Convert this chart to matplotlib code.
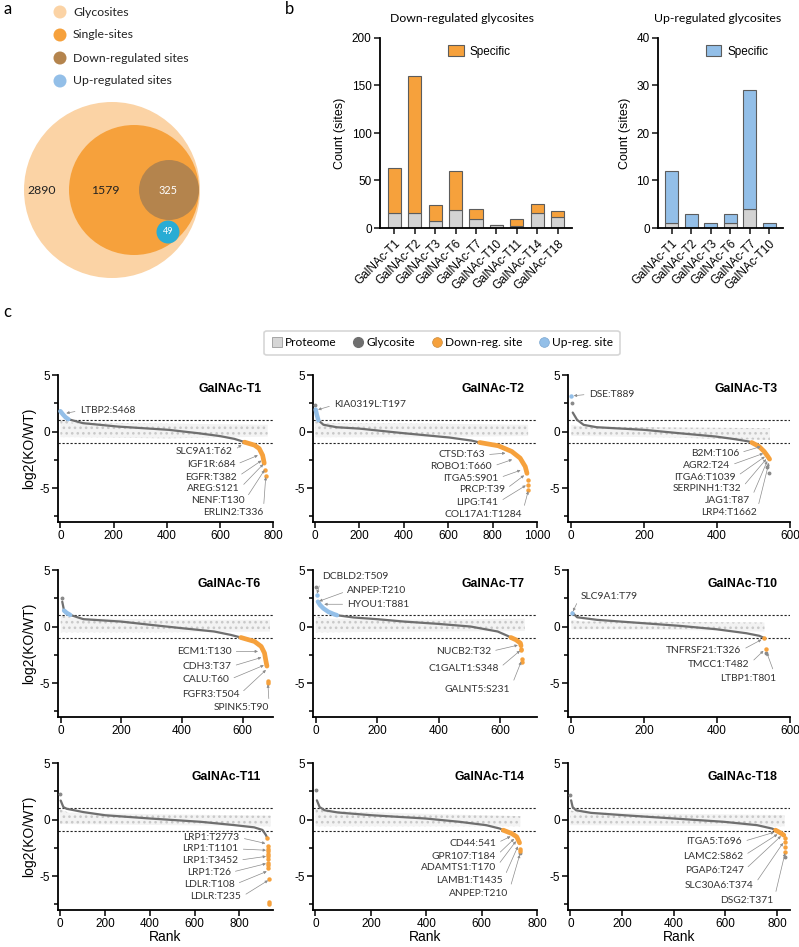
import numpy as np
import matplotlib
matplotlib.use("Agg")
import matplotlib.pyplot as plt
from matplotlib.patches import Circle, Patch
from matplotlib.lines import Line2D
from matplotlib.ticker import MultipleLocator

plt.rcParams['font.family'] = ['Liberation Sans', 'DejaVu Sans']
plt.rcParams['axes.unicode_minus'] = False
plt.rcParams['hatch.linewidth'] = 1.1
SOFT = ['Lato', 'DejaVu Sans']   # Myriad-like text

# ---- a: nested Venn
venn_labels = ['Glycosites', 'Single-sites', 'Down-regulated sites', 'Up-regulated sites']
venn_counts = [2890, 1579, 325, 49]

# ---- b: regulated glycosites per isoform (total, shared part in grey)
down_names = ['GalNAc-T1', 'GalNAc-T2', 'GalNAc-T3', 'GalNAc-T6', 'GalNAc-T7',
              'GalNAc-T10', 'GalNAc-T11', 'GalNAc-T14', 'GalNAc-T18']
down_total = [63, 160, 24, 60, 20, 3, 9, 25, 18]
down_shared = [16, 16, 7, 19, 10, 3, 2, 16, 12]
up_names = ['GalNAc-T1', 'GalNAc-T2', 'GalNAc-T3', 'GalNAc-T6', 'GalNAc-T7', 'GalNAc-T10']
up_total = [12, 3, 1, 3, 29, 1]
up_shared = [1, 0, 0, 1, 4, 0]

# ---- c: ranked log2(KO/WT) of glycosites
panels = ['GalNAc-T1', 'GalNAc-T2', 'GalNAc-T3', 'GalNAc-T6', 'GalNAc-T7',
          'GalNAc-T10', 'GalNAc-T11', 'GalNAc-T14', 'GalNAc-T18']

glyco_x = {
    'GalNAc-T1': [30, 85, 216, 408, 519, 600, 655, 686, 693],
    'GalNAc-T2': [15, 38, 98, 200, 401, 606, 705, 742],
    'GalNAc-T3': [4, 16, 34, 70, 200, 297, 396, 450, 487, 495],
    'GalNAc-T6': [5, 11, 31, 75, 199, 296, 401, 506, 561, 594],
    'GalNAc-T7': [69, 123, 200, 287, 396, 504, 592, 624, 635],
    'GalNAc-T10': [3, 16, 71, 200, 298, 398, 480, 516, 530],
    'GalNAc-T11': [3, 15, 30, 104, 201, 403, 627, 776, 866, 903, 918, 925],
    'GalNAc-T14': [5, 15, 33, 82, 203, 398, 520, 617, 666, 678],
    'GalNAc-T18': [3, 9, 22, 80, 208, 401, 594, 723, 781, 794],
}
glyco_y = {
    'GalNAc-T1': [1.09, 0.74, 0.44, 0.15, -0.15, -0.4, -0.65, -0.88, -0.94],
    'GalNAc-T2': [1.0, 0.6, 0.38, 0.26, -0.15, -0.53, -0.8, -0.97],
    'GalNAc-T3': [1.68, 1.03, 0.59, 0.38, 0.15, -0.15, -0.44, -0.68, -0.88, -0.97],
    'GalNAc-T6': [2.2, 1.41, 1.03, 0.65, 0.44, 0.15, -0.15, -0.44, -0.74, -0.97],
    'GalNAc-T7': [1.0, 0.8, 0.65, 0.44, 0.24, 0.0, -0.44, -0.82, -0.97],
    'GalNAc-T10': [1.24, 0.82, 0.59, 0.29, 0.06, -0.24, -0.59, -0.82, -1.03],
    'GalNAc-T11': [1.68, 1.1, 0.95, 0.66, 0.38, 0.09, -0.2, -0.49, -0.69, -0.92, -1.36, -1.65],
    'GalNAc-T14': [1.7, 1.1, 0.82, 0.62, 0.38, 0.09, -0.2, -0.5, -0.8, -0.94],
    'GalNAc-T18': [1.7, 1.1, 0.82, 0.59, 0.38, 0.09, -0.2, -0.5, -0.8, -0.94],
}
down_x = {
    'GalNAc-T1': [693, 730, 748, 761, 767],
    'GalNAc-T2': [742, 826, 886, 924, 947, 955],
    'GalNAc-T3': [495, 515, 529, 538, 544],
    'GalNAc-T6': [594, 639, 661, 672, 677, 680],
    'GalNAc-T7': [635, 652, 666, 668],
    'GalNAc-T10': [],
    'GalNAc-T11': [],
    'GalNAc-T14': [678, 709, 727, 737],
    'GalNAc-T18': [794, 813, 826],
}
down_y = {
    'GalNAc-T1': [-0.94, -1.2, -1.5, -2.1, -2.8],
    'GalNAc-T2': [-0.97, -1.26, -1.76, -2.35, -3.1, -3.7],
    'GalNAc-T3': [-0.97, -1.32, -1.76, -2.15, -2.44],
    'GalNAc-T6': [-0.97, -1.32, -1.76, -2.35, -3.1, -3.5],
    'GalNAc-T7': [-0.97, -1.18, -1.47, -1.7],
    'GalNAc-T10': [],
    'GalNAc-T11': [],
    'GalNAc-T14': [-0.94, -1.24, -1.53, -2.06],
    'GalNAc-T18': [-0.94, -1.18, -1.38],
}
down_dot_x = {
    'GalNAc-T1': [771, 772],
    'GalNAc-T2': [958, 958, 960],
    'GalNAc-T3': [],
    'GalNAc-T6': [683, 684],
    'GalNAc-T7': [668, 668, 670, 670],
    'GalNAc-T10': [530, 535],
    'GalNAc-T11': [925, 926, 926, 926, 927, 927, 927, 928, 928, 928, 930, 933, 934],
    'GalNAc-T14': [739, 739],
    'GalNAc-T18': [830, 831, 832, 832],
}
down_dot_y = {
    'GalNAc-T1': [-3.4, -3.9],
    'GalNAc-T2': [-4.3, -4.7, -5.15],
    'GalNAc-T3': [],
    'GalNAc-T6': [-4.85, -5.0],
    'GalNAc-T7': [-1.95, -2.1, -2.9, -3.15],
    'GalNAc-T10': [-1.05, -1.97],
    'GalNAc-T11': [-1.65, -2.37, -2.6, -2.8, -3.05, -3.24, -3.5, -3.8, -4.05, -4.25, -5.26, -7.28, -7.43],
    'GalNAc-T14': [-2.6, -2.76],
    'GalNAc-T18': [-1.6, -1.97, -2.41, -2.85],
}
up_x = {
    'GalNAc-T1': [0, 10, 20, 30],
    'GalNAc-T2': [3, 8, 15],
    'GalNAc-T3': [],
    'GalNAc-T6': [11, 20, 31],
    'GalNAc-T7': [7, 14, 25, 41, 58, 69],
    'GalNAc-T10': [],
    'GalNAc-T11': [],
    'GalNAc-T14': [],
    'GalNAc-T18': [],
}
up_y = {
    'GalNAc-T1': [1.8, 1.5, 1.25, 1.09],
    'GalNAc-T2': [1.95, 1.5, 1.0],
    'GalNAc-T3': [],
    'GalNAc-T6': [1.41, 1.2, 1.03],
    'GalNAc-T7': [2.2, 1.9, 1.6, 1.3, 1.1, 1.0],
    'GalNAc-T10': [],
    'GalNAc-T11': [],
    'GalNAc-T14': [],
    'GalNAc-T18': [],
}
up_dot_x = {'GalNAc-T3': [0], 'GalNAc-T7': [3], 'GalNAc-T10': [3]}
up_dot_y = {'GalNAc-T3': [3.15], 'GalNAc-T7': [2.8], 'GalNAc-T10': [1.24]}
other_x = {'GalNAc-T2': [0], 'GalNAc-T3': [2, 538, 542], 'GalNAc-T6': [3], 'GalNAc-T7': [0],
           'GalNAc-T10': [535], 'GalNAc-T11': [0], 'GalNAc-T14': [2, 740], 'GalNAc-T18': [0, 832]}
other_y = {'GalNAc-T2': [2.35], 'GalNAc-T3': [2.5, -3.1, -3.7], 'GalNAc-T6': [2.5], 'GalNAc-T7': [3.5],
           'GalNAc-T10': [-2.3], 'GalNAc-T11': [2.25], 'GalNAc-T14': [2.6, -3.0], 'GalNAc-T18': [2.15, -3.3]}

# proteome spread (upper / lower envelope of the light grey cloud)
prot_x = {
    'GalNAc-T1': [0, 40, 400, 780], 'GalNAc-T2': [0, 40, 500, 960], 'GalNAc-T3': [0, 30, 300, 545],
    'GalNAc-T6': [0, 40, 350, 690], 'GalNAc-T7': [0, 40, 350, 680], 'GalNAc-T10': [0, 30, 300, 530],
    'GalNAc-T11': [0, 40, 500, 940], 'GalNAc-T14': [0, 40, 400, 740], 'GalNAc-T18': [0, 40, 400, 830],
}
prot_hi = {
    'GalNAc-T1': [1.1, 0.8, 0.7, 0.6], 'GalNAc-T2': [0.9, 0.75, 0.7, 0.6], 'GalNAc-T3': [0.6, 0.45, 0.35, 0.3],
    'GalNAc-T6': [1.0, 0.75, 0.6, 0.6], 'GalNAc-T7': [0.9, 0.7, 0.6, 0.7], 'GalNAc-T10': [0.6, 0.45, 0.4, 0.35],
    'GalNAc-T11': [0.9, 0.6, 0.45, 0.35], 'GalNAc-T14': [1.0, 0.75, 0.5, 0.3], 'GalNAc-T18': [0.8, 0.65, 0.5, 0.4],
}
prot_lo = {
    'GalNAc-T1': [-0.5, -0.5, -0.6, -0.45], 'GalNAc-T2': [-0.5, -0.5, -0.5, -0.4], 'GalNAc-T3': [-0.4, -0.4, -0.55, -0.75],
    'GalNAc-T6': [-0.5, -0.5, -0.5, -0.45], 'GalNAc-T7': [-0.5, -0.5, -0.45, -0.4], 'GalNAc-T10': [-0.25, -0.25, -0.3, -0.45],
    'GalNAc-T11': [-0.4, -0.4, -0.5, -0.6], 'GalNAc-T14': [-0.6, -0.6, -0.6, -0.6], 'GalNAc-T18': [-0.5, -0.5, -0.55, -0.6],
}

# called-out sites: (label, rank, log2 ratio)
callouts = {
    'GalNAc-T1': [('LTBP2:S468', 17, 1.6), ('SLC9A1:T62', 686, -1.09), ('IGF1R:684', 748, -2.06),
                  ('EGFR:T382', 761, -2.5), ('AREG:S121', 767, -2.8), ('NENF:T130', 771, -3.3),
                  ('ERLIN2:T336', 773, -3.9)],
    'GalNAc-T2': [('KIA0319L:T197', 8, 1.9), ('CTSD:T63', 864, -1.9), ('ROBO1:T660', 894, -2.44),
                  ('ITGA5:S901', 932, -3.38), ('PRCP:T39', 947, -3.8), ('LIPG:T41', 955, -4.7),
                  ('COL17A1:T1284', 962, -5.15)],
    'GalNAc-T3': [('DSE:T889', 3, 3.15), ('B2M:T106', 523, -1.3), ('AGR2:T24', 530, -1.9),
                  ('ITGA6:T1039', 534, -2.15), ('SERPINH1:T32', 537, -2.35), ('JAG1:T87', 539, -2.5),
                  ('LRP4:T1662', 543, -2.65)],
    'GalNAc-T6': [('ECM1:T130', 655, -2.2), ('CDH3:T37', 666, -2.7), ('CALU:T60', 674, -3.38),
                  ('FGFR3:T504', 680, -3.76), ('SPINK5:T90', 683, -5.0)],
    'GalNAc-T7': [('DCBLD2:T509', 3, 2.8), ('ANPEP:T210', 7, 2.2), ('HYOU1:T881', 23, 1.97),
                  ('NUCB2:T32', 662, -1.62), ('C1GALT1:S348', 668, -2.06), ('GALNT5:S231', 670, -3.0)],
    'GalNAc-T10': [('SLC9A1:T79', 3, 1.24), ('TNFRSF21:T326', 525, -1.1), ('TMCC1:T482', 530, -2.06),
                   ('LTBP1:T801', 535, -2.2)],
    'GalNAc-T11': [('LRP1:T2773', 922, -2.14), ('LRP1:T1101', 925, -2.72), ('LRP1:T3452', 925, -3.24),
                   ('LRP1:T26', 925, -3.87), ('LDLR:T108', 928, -4.54), ('LDLR:T235', 933, -5.32)],
    'GalNAc-T14': [('CD44:541', 709, -1.44), ('GPR107:T184', 721, -1.62), ('ADAMTS1:T170', 727, -1.82),
                   ('LAMB1:T1435', 733, -2.26), ('ANPEP:T210', 739, -3.0)],
    'GalNAc-T18': [('ITGA5:T696', 794, -1.09), ('LAMC2:S862', 806, -1.24), ('PGAP6:T247', 819, -1.38),
                   ('SLC30A6:T374', 826, -1.97), ('DSG2:T371', 832, -2.85)],
}
# where each label text sits (layout)
callout_pos = {
    'GalNAc-T1': [(73, 1.85), (649, -1.76), (658, -2.94), (665, -4.03), (674, -5.06), (693, -6.12), (763, -7.2)],
    'GalNAc-T2': [(86, 2.35), (765, -2.06), (798, -3.09), (826, -4.12), (856, -5.15), (826, -6.26), (932, -7.35)],
    'GalNAc-T3': [(48, 3.3), (460, -1.9), (435, -3.0), (451, -4.03), (466, -5.06), (491, -6.12), (508, -7.2)],
    'GalNAc-T6': [(563, -2.2), (563, -3.53), (556, -4.7), (589, -6.03), (688, -7.2)],
    'GalNAc-T7': [(20, 4.41), (103, 3.15), (103, 1.97), (570, -2.2), (595, -3.74), (633, -5.53)],
    'GalNAc-T10': [(25, 2.7), (466, -2.12), (489, -3.32), (562, -4.56)],
    'GalNAc-T11': [(801, -1.59), (796, -2.6), (794, -3.61), (761, -4.68), (779, -5.75), (809, -6.85)],
    'GalNAc-T14': [(652, -2.12), (652, -3.24), (652, -4.26), (676, -5.41), (697, -6.53)],
    'GalNAc-T18': [(665, -1.97), (669, -3.24), (671, -4.53), (710, -5.85), (787, -7.18)],
}
rank_max = {'GalNAc-T1': 800, 'GalNAc-T2': 1000, 'GalNAc-T3': 600, 'GalNAc-T6': 700, 'GalNAc-T7': 720,
            'GalNAc-T10': 600, 'GalNAc-T11': 950, 'GalNAc-T14': 800, 'GalNAc-T18': 850}

ORANGE = '#f6a13c'
BLUE = '#93bfe8'
GLYCO = '#6f6f6f'
PROT = '#c9c9c9'
EDGE = '#5c5c5c'

W, H = 799, 947
fig = plt.figure(figsize=(W / 100, H / 100), dpi=100)


def px_axes(x0, y0, x1, y1):
    return fig.add_axes([x0 / W, 1 - y1 / H, (x1 - x0) / W, (y1 - y0) / H])


# ---------------- a
ax = px_axes(0, 0, 260, 300)
ax.set_xlim(0, 260)
ax.set_ylim(300, 0)
ax.axis('off')
legend_cols = ['#fbd3a5', ORANGE, '#b4844d', BLUE]
venn_cols = ['#fbd3a5', ORANGE, '#b4844d', '#29acd4']
for i, lab in enumerate(venn_labels):
    ax.add_patch(Circle((60, 12 + 23 * i), 6.5, color=legend_cols[i], lw=0))
    ax.text(73, 12 + 23 * i, lab, family=SOFT, fontsize=8.8, va='center', ha='left', color='#222222')
circ = [((112, 190), 88), ((134, 190), 65), ((169, 190), 30), ((168, 232), 11.5)]
for (c, r), col in zip(circ, venn_cols):
    ax.add_patch(Circle(c, r, color=col, lw=0))
txt_xy = [(42, 190), (105, 190), (168, 190), (168, 232)]
txt_col = ['#222222', '#222222', 'white', 'white']
txt_fs = [8.8, 8.8, 7.8, 6.5]
for (x, y), n, tc, fs in zip(txt_xy, venn_counts, txt_col, txt_fs):
    ax.text(x, y, str(n), family=SOFT, fontsize=fs, color=tc, ha='center', va='center')

fig.text(3 / W, 1 - 9 / H, 'a', family=SOFT, fontsize=12, va='center', ha='left')
fig.text(285 / W, 1 - 9 / H, 'b', family=SOFT, fontsize=12, va='center', ha='left')
fig.text(3 / W, 1 - 312 / H, 'c', family=SOFT, fontsize=12, va='center', ha='left')


# ---------------- b
def bar_panel(box, names, total, shared, col, ymax, step, title, tx):
    ax = px_axes(*box)
    x = np.arange(len(names))
    specific = [t - s for t, s in zip(total, shared)]
    ax.bar(x, shared, 0.65, color='#d3d3d3', edgecolor=EDGE, lw=0.8, zorder=2)
    ax.bar(x, specific, 0.65, bottom=shared, color=col, edgecolor=EDGE, lw=0.8, zorder=2)
    ax.set_xlim(-0.7, len(names) - 0.3)
    ax.set_ylim(0, ymax)
    ax.yaxis.set_major_locator(MultipleLocator(step))
    ax.set_xticks(x)
    ax.set_xticklabels(names, rotation=45, ha='right', rotation_mode='anchor', fontsize=8.5)
    ax.tick_params(axis='both', length=4, width=1.1, labelsize=8.5, pad=2, color='#111111')
    ax.tick_params(axis='x', pad=3)
    for s in ['top', 'right']:
        ax.spines[s].set_visible(False)
    for s in ['left', 'bottom']:
        ax.spines[s].set_linewidth(1.3)
    ax.set_ylabel('Count (sites)', fontsize=9, labelpad=4)
    ax.legend(handles=[Patch(facecolor=col, edgecolor=EDGE, lw=0.8)], labels=['Specific'],
              loc='upper left', bbox_to_anchor=(0.3, 1.02), frameon=False, fontsize=8.5,
              handlelength=1.3, handleheight=1.1, handletextpad=0.5)
    fig.text(tx / W, 1 - 19 / H, title, family=SOFT, fontsize=8.8, ha='center', va='center')


bar_panel((380, 38, 572, 228), down_names, down_total, down_shared, ORANGE, 200, 50,
          'Down-regulated glycosites', 462)
bar_panel((658, 38, 783, 228), up_names, up_total, up_shared, BLUE, 40, 10,
          'Up-regulated glycosites', 718)

# ---------------- c legend
handles = [Line2D([], [], marker='s', ls='none', ms=7, mfc='#d6d6d6', mec='#9a9a9a', mew=0.6),
           Line2D([], [], marker='o', ls='none', ms=7, mfc=GLYCO, mec=GLYCO),
           Line2D([], [], marker='o', ls='none', ms=7, mfc=ORANGE, mec='#c98a3a', mew=0.5),
           Line2D([], [], marker='o', ls='none', ms=7, mfc=BLUE, mec='#7aa6d0', mew=0.5)]
leg = fig.legend(handles, ['Proteome', 'Glycosite', 'Down-reg. site', 'Up-reg. site'],
                 ncol=4, loc='center', bbox_to_anchor=(442 / W, 1 - 343 / H), frameon=True,
                 fancybox=True, edgecolor='#cccccc', prop={'family': SOFT, 'size': 8.6},
                 handletextpad=0.2, columnspacing=1.3, borderpad=0.55, handlelength=1.0)
leg.get_frame().set_linewidth(1.2)

# ---------------- c panels
col_l = [58, 313, 568]
col_r = [273, 537, 790]
row_t = [375, 570, 763]
for i, name in enumerate(panels):
    r, c = divmod(i, 3)
    ax = px_axes(col_l[c], row_t[r], col_r[c], row_t[r] + 147)
    ax.set_xlim(-9, rank_max[name])
    ax.set_ylim(-8, 5)

    ax.fill_between(prot_x[name], prot_lo[name], prot_hi[name], facecolor='#f3f3f3',
                    edgecolor=PROT, hatch='...', lw=0, zorder=1)
    ax.axhline(1, color='#222222', lw=0.8, ls=(0, (2, 1.6)), zorder=2)
    ax.axhline(-1, color='#222222', lw=0.8, ls=(0, (2, 1.6)), zorder=2)

    ax.plot(glyco_x[name], glyco_y[name], color=GLYCO, lw=1.6, zorder=3, solid_capstyle='round')
    if up_x[name]:
        ax.plot(up_x[name], up_y[name], color=BLUE, lw=3.2, zorder=4, solid_capstyle='round')
    if down_x[name]:
        ax.plot(down_x[name], down_y[name], color=ORANGE, lw=3.4, zorder=4, solid_capstyle='round')
    ax.plot(other_x.get(name, []), other_y.get(name, []), 'o', ms=1.8, color='#8a8a8a', zorder=3)
    ax.plot(down_dot_x[name], down_dot_y[name], 'o', ms=3.2, color=ORANGE, mew=0, zorder=4)
    ax.plot(up_dot_x.get(name, []), up_dot_y.get(name, []), 'o', ms=3.2, color=BLUE, mew=0, zorder=4)

    for (lab, px, py), (lx, ly) in zip(callouts[name], callout_pos[name]):
        left = py > 0
        ax.annotate(lab, xy=(px, py), xytext=(lx, ly), family=SOFT, fontsize=7.4,
                    color='#333333', ha='left' if left else 'right', va='center', zorder=6,
                    arrowprops=dict(arrowstyle='-|>', color='#8c8c8c', lw=0.5, mutation_scale=4,
                                    shrinkA=1.5, shrinkB=1, relpos=(0, 0.5) if left else (1, 0.5)))

    ax.text(0.945, 0.905, name, transform=ax.transAxes, ha='right', va='center',
            fontsize=8.8, fontweight='bold')

    ax.set_yticks([-5, 0, 5])
    ax.yaxis.set_minor_locator(MultipleLocator(2.5))
    ax.set_xticks(np.arange(0, rank_max[name] + 1, 200))
    ax.tick_params(axis='both', which='major', length=4, width=1.1, labelsize=8.5, pad=2)
    ax.tick_params(axis='y', which='minor', length=3, width=1.1)
    for s in ['top', 'right']:
        ax.spines[s].set_visible(False)
    for s in ['left', 'bottom']:
        ax.spines[s].set_linewidth(1.3)
    if c == 0:
        ax.set_ylabel('log2(KO/WT)', fontsize=10, labelpad=2)
    if r == 2:
        ax.set_xlabel('Rank', fontsize=10, labelpad=0)

fig.savefig('out.png', dpi=100)
